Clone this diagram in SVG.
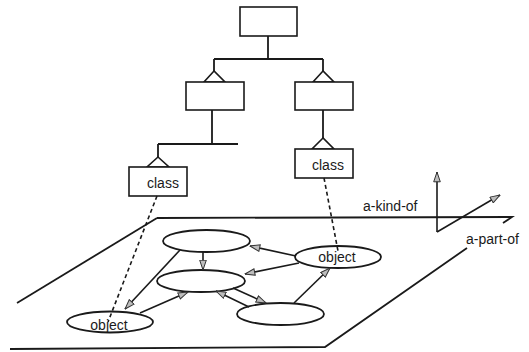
<svg xmlns="http://www.w3.org/2000/svg" width="529" height="352" viewBox="0 0 529 352">
<style>
.bg{fill:#fff}
.box{fill:#fff;stroke:#1a1a1a;stroke-width:1.6}
.tri{fill:#fff;stroke:#1a1a1a;stroke-width:1.6;stroke-linejoin:miter}
.ln{fill:none;stroke:#1a1a1a;stroke-width:1.8}
.ell{fill:#fff;stroke:#1a1a1a;stroke-width:1.8}
.arr{fill:none;stroke:#1a1a1a;stroke-width:1.6;marker-end:url(#ah)}
.dash{fill:none;stroke:#1a1a1a;stroke-width:1.6;stroke-dasharray:4 3}
.t{font-family:"Liberation Sans",Arial,sans-serif;font-size:14px;fill:#1a1a1a}
</style>
<defs>
<marker id="ah" viewBox="0 0 11 8" refX="10.5" refY="4" markerWidth="11" markerHeight="8" markerUnits="userSpaceOnUse" orient="auto">
<path d="M0.7,0.7 L10.5,4 L0.7,7.3 Z" fill="#bdbdbd" stroke="#333" stroke-width="1"/>
</marker>
</defs>
<rect class="bg" width="529" height="352"/>

<g id="hierarchy-connectors">
<path class="ln" d="M268,36 V59 M214,59 H323 M214,59 V71 M323,59 V71"/>
<path class="ln" d="M212,110 V144 M158,144 H238 M158,144 V157"/>
<path class="ln" d="M323,110 V138"/>
</g>

<g id="class-root">
<rect class="box" x="240" y="7" width="57" height="29"/>
</g>
<g id="class-left">
<polygon class="tri" points="214,71 204,82 225,82"/>
<rect class="box" x="186" y="82" width="58" height="28"/>
</g>
<g id="class-right">
<polygon class="tri" points="323,71 313,82 334,82"/>
<rect class="box" x="295" y="82" width="58" height="28"/>
</g>
<g id="class-leaf-left">
<polygon class="tri" points="158,157 147,167 169,167"/>
<rect class="box" x="129" y="167" width="58" height="29"/>
<text class="t" x="147" y="188">class</text>
</g>
<g id="class-leaf-right">
<polygon class="tri" points="323,138 312,149 334,149"/>
<rect class="box" x="295" y="149" width="58" height="29"/>
<text class="t" x="312" y="170">class</text>
</g>

<g id="plane">
<path class="ln" d="M157,218 L17,303"/>
<path class="ln" d="M157,218 L512,217 L503,223"/>
<path class="ln" d="M467,248 L325,347 L10,349"/>
</g>

<g id="axes">
<path class="arr" d="M437,232 V172"/>
<path class="arr" d="M437,232 L500,195"/>
<text class="t" x="363" y="211">a-kind-of</text>
<text class="t" x="466" y="244">a-part-of</text>
</g>

<g id="obj-top">
<ellipse class="ell" cx="206.5" cy="241" rx="43.5" ry="11"/>
</g>
<g id="obj-middle">
<ellipse class="ell" cx="201" cy="281" rx="44" ry="11"/>
</g>
<g id="obj-right">
<ellipse class="ell" cx="338" cy="257" rx="43" ry="11"/>
<text class="t" x="337" y="262" text-anchor="middle">object</text>
</g>
<g id="obj-bottom">
<ellipse class="ell" cx="280.5" cy="314" rx="43.5" ry="11"/>
</g>
<g id="obj-left">
<ellipse class="ell" cx="110" cy="322" rx="43" ry="10.5"/>
<text class="t" x="109" y="330" text-anchor="middle">object</text>
</g>

<g id="connectors">
<path class="dash" d="M157,196 L108,322"/>
<path class="dash" d="M324,178 L338,251"/>
<path class="arr" d="M180,250 L125,309"/>
<path class="arr" d="M140,313 L188,292"/>
<path class="arr" d="M203,252 V270"/>
<path class="arr" d="M296,256 L250,246"/>
<path class="arr" d="M299,263 L245,274"/>
<path class="arr" d="M294,303 L330,268"/>
<path class="arr" d="M233,288 L266,303"/>
<path class="arr" d="M249,307 L216,291"/>
</g>
</svg>
